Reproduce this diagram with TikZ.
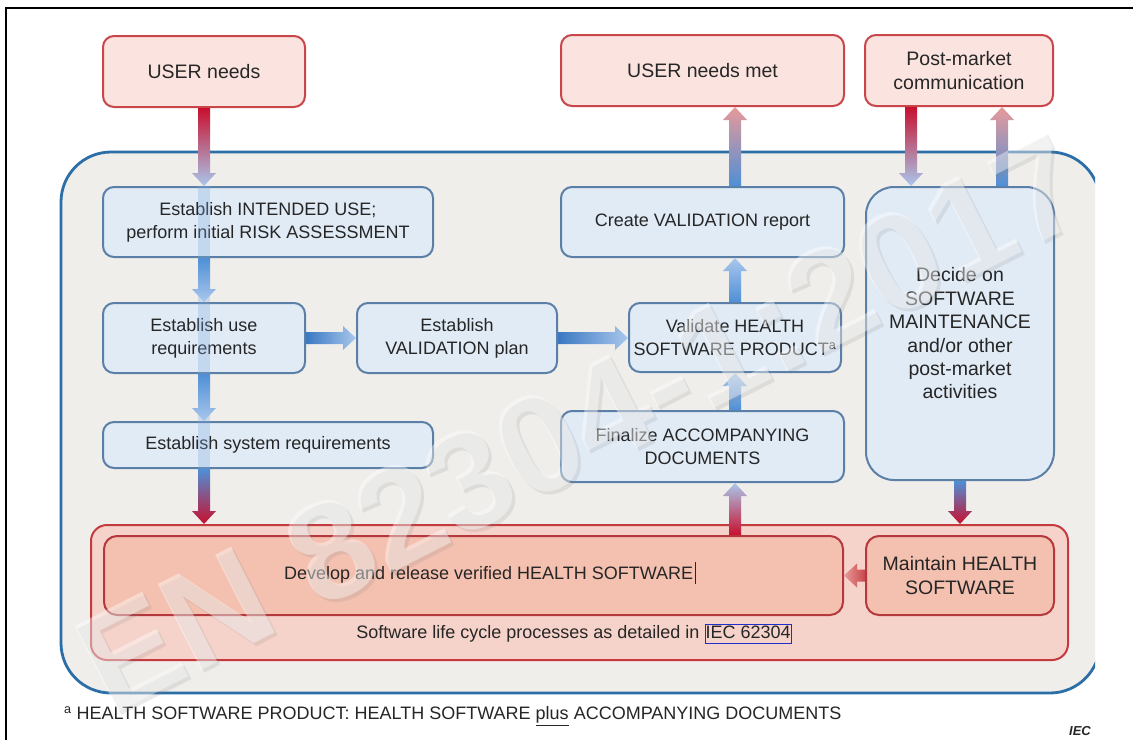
\documentclass[tikz,border=0pt]{standalone}
\usepackage{fontspec}
\setmainfont{Liberation Sans}
\usetikzlibrary{calc}
\definecolor{txt}{HTML}{262626}
\definecolor{pinkfill}{HTML}{FBE3DF}
\definecolor{boxred}{HTML}{C9474B}
\definecolor{bluefill}{HTML}{E1EBF6}
\definecolor{boxblue}{HTML}{5B7FA6}
\definecolor{areafill}{HTML}{F0EEEB}
\definecolor{areablue}{HTML}{2C6EA6}
\definecolor{contfill}{HTML}{F6D3CA}
\definecolor{contred}{HTML}{C43A3F}
\definecolor{salmonfill}{HTML}{F4C0AF}
\definecolor{darkred}{HTML}{B5383C}
\definecolor{linkblue}{HTML}{1F2FC8}
\definecolor{arrred}{HTML}{C8102E}
\definecolor{arrblue}{HTML}{4F8FD6}
\definecolor{arrdblue}{HTML}{3A78C2}
\definecolor{arrlight}{HTML}{A9C7EC}
\definecolor{arrpink}{HTML}{E79A9A}
\definecolor{stripe}{HTML}{7FA9DF}
\setlength{\fboxsep}{0pt}
\setlength{\fboxrule}{1pt}
% gradient arrows: #1 start, #2 end, #3 start colour, #4 end colour
\newcommand\ArrDown[4]{\shade[top color=#3,bottom color=#4] let \p1=(#1),\p2=(#2) in
  (\x1-6pt,\y1) -- (\x1+6pt,\y1) -- (\x1+6pt,\y2+13pt) -- (\x1+12pt,\y2+13pt) -- (\x1,\y2)
  -- (\x1-12pt,\y2+13pt) -- (\x1-6pt,\y2+13pt) -- cycle;}
\newcommand\ArrUp[4]{\shade[bottom color=#3,top color=#4] let \p1=(#1),\p2=(#2) in
  (\x1-6pt,\y1) -- (\x1+6pt,\y1) -- (\x1+6pt,\y2-13pt) -- (\x1+12pt,\y2-13pt) -- (\x1,\y2)
  -- (\x1-12pt,\y2-13pt) -- (\x1-6pt,\y2-13pt) -- cycle;}
\newcommand\ArrRight[4]{\shade[left color=#3,right color=#4] let \p1=(#1),\p2=(#2) in
  (\x1,\y1-6pt) -- (\x1,\y1+6pt) -- (\x2-13pt,\y1+6pt) -- (\x2-13pt,\y1+12pt) -- (\x2,\y1)
  -- (\x2-13pt,\y1-12pt) -- (\x2-13pt,\y1-6pt) -- cycle;}
\newcommand\ArrLeft[4]{\shade[right color=#3,left color=#4] let \p1=(#1),\p2=(#2) in
  (\x1,\y1-6pt) -- (\x1,\y1+6pt) -- (\x2+13pt,\y1+6pt) -- (\x2+13pt,\y1+12pt) -- (\x2,\y1)
  -- (\x2+13pt,\y1-12pt) -- (\x2+13pt,\y1-6pt) -- cycle;}
\begin{document}
\begin{tikzpicture}[x=1pt,y=-1pt,
  every node/.style={text=txt,font=\fontsize{18}{23}\selectfont,align=center,inner sep=0pt},
  bigtext/.style={font=\fontsize{19.5}{23.4}\selectfont},
  pinkbox/.style={draw=boxred,line width=2pt,fill=pinkfill,rounded corners=11pt,bigtext},
  bluebox/.style={draw=boxblue,line width=2pt,fill=bluefill,rounded corners=11pt},
  salmonbox/.style={draw=darkred,line width=2pt,fill=salmonfill,rounded corners=13pt},
  container/.style={draw=contred,line width=2pt,fill=contfill,rounded corners=16pt},
  wmark/.style={rotate=27,font=\fontsize{140}{140}\selectfont\bfseries}]
\useasboundingbox (0,0) rectangle (1133,740);
\fill[white] (0,0) rectangle (1133,740);
\draw[black,line width=2pt] (6,740) -- (6,8) -- (1133,8);
% blue process area (cut at the right)
\begin{scope}
  \clip (0,0) rectangle (1095,740);
  \draw[fill=areafill,draw=areablue,line width=2.8pt,rounded corners=50pt] (61,152) rectangle (1100,693);
\end{scope}
% red life-cycle container
\node[container,minimum width=977pt,minimum height=135pt] (rc) at (579.5,592.5) {};
% top boxes
\node[pinkbox,minimum width=202pt,minimum height=71pt] (un) at (204,71.5) {USER needs};
\node[pinkbox,minimum width=283pt,minimum height=71pt] (unm) at (702.5,70.5) {USER needs met};
\node[pinkbox,minimum width=188pt,minimum height=71pt] (pmc) at (959,70.5) {Post-market\\communication};
% blue boxes
\node[bluebox,minimum width=330pt,minimum height=70pt] (ir) at (268,222) {Establish INTENDED USE;\\perform initial RISK ASSESSMENT};
\node[bluebox,minimum width=202pt,minimum height=70pt] (ur) at (204,338) {Establish use\\requirements};
\node[bluebox,minimum width=200pt,minimum height=70pt] (vp) at (457,338) {Establish\\VALIDATION plan};
\node[bluebox,minimum width=330pt,minimum height=46pt] (sr) at (268,445) {Establish system requirements};
\node[bluebox,minimum width=283pt,minimum height=70pt] (cr) at (702.5,222) {Create VALIDATION report};
\node[bluebox,minimum width=212pt,minimum height=69pt] (vh) at (735,337.5) {Validate HEALTH\\SOFTWARE PRODUCT\textsuperscript{a}};
\node[bluebox,minimum width=283pt,minimum height=71pt] (fa) at (702.5,446.5) {Finalize ACCOMPANYING\\DOCUMENTS};
\node[bluebox,bigtext,rounded corners=28pt,minimum width=188pt,minimum height=293pt] (dm) at (960,333.5) {Decide on\\SOFTWARE\\MAINTENANCE\\and/or other\\post-market\\activities};
% salmon boxes
\node[salmonbox,minimum width=739pt,minimum height=79pt] (dv) at (473.5,575.5) {};
\node (dvt) at (490,573) {Develop and release verified HEALTH SOFTWARE\hspace{2pt}\rule[-5pt]{0.8pt}{22pt}};
\node[salmonbox,bigtext,minimum width=188pt,minimum height=79pt] (mh) at (960,575.5) {Maintain HEALTH\\SOFTWARE};
\node (slc) at (574,634) {Software life cycle processes as detailed in \fcolorbox{linkblue}{contfill}{\rule[-5pt]{0pt}{18pt}IEC 62304}};
% faint shaft seen through the left boxes
\fill[stripe,opacity=0.3] ($(ur.north |- ir.north)+(-6,0)$) rectangle ($(ur.south |- sr.south)+(6,0)$);
% helper coordinates
\coordinate (pmL) at ([xshift=-48pt]pmc.south);
\coordinate (pmR) at ([xshift=43pt]pmc.south);
% arrows, left chain
\ArrDown{un.south}{un.south |- ir.north}{arrred}{arrlight}
\ArrDown{ur.north |- ir.south}{ur.north}{arrblue}{arrlight}
\ArrDown{ur.south}{ur.south |- sr.north}{arrblue}{arrlight}
\ArrDown{ur.south |- sr.south}{ur.south |- rc.north}{arrblue}{arrred}
% horizontal
\ArrRight{ur.east}{vp.west}{arrdblue}{arrlight}
\ArrRight{vp.east}{vp.east -| vh.west}{arrdblue}{arrlight}
% centre column
\ArrUp{vh.north}{vh.north |- cr.south}{arrblue}{arrlight}
\ArrUp{vh.south |- fa.north}{vh.south}{arrblue}{arrlight}
\ArrUp{vh.south |- dv.north}{vh.south |- fa.south}{arrred}{arrlight}
\ArrUp{vh.north |- cr.north}{vh.north |- unm.south}{arrblue}{arrpink}
% post-market
\ArrDown{pmL}{pmL |- dm.north}{arrred}{arrlight}
\ArrUp{pmR |- dm.north}{pmR}{arrblue}{arrpink}
\ArrDown{dm.south}{dm.south |- rc.north}{arrblue}{arrred}
\ArrLeft{mh.west}{mh.west -| dv.east}{boxred}{arrpink}
% footnote
\node[anchor=west] (fn) at (64,716) {\textsuperscript{a} HEALTH SOFTWARE PRODUCT: HEALTH SOFTWARE \underline{plus} ACCOMPANYING DOCUMENTS};
\node[anchor=east,font=\fontsize{13}{13}\selectfont\bfseries\itshape] (iec) at (1091,731) {IEC};
% watermark (faint)
\node[wmark,text=black!50,opacity=0.16] (wms) at (584,426) {EN 82304-1:2017};
\node[wmark,text=white,opacity=0.4] (wm) at (581,423) {EN 82304-1:2017};
\end{tikzpicture}
\end{document}
